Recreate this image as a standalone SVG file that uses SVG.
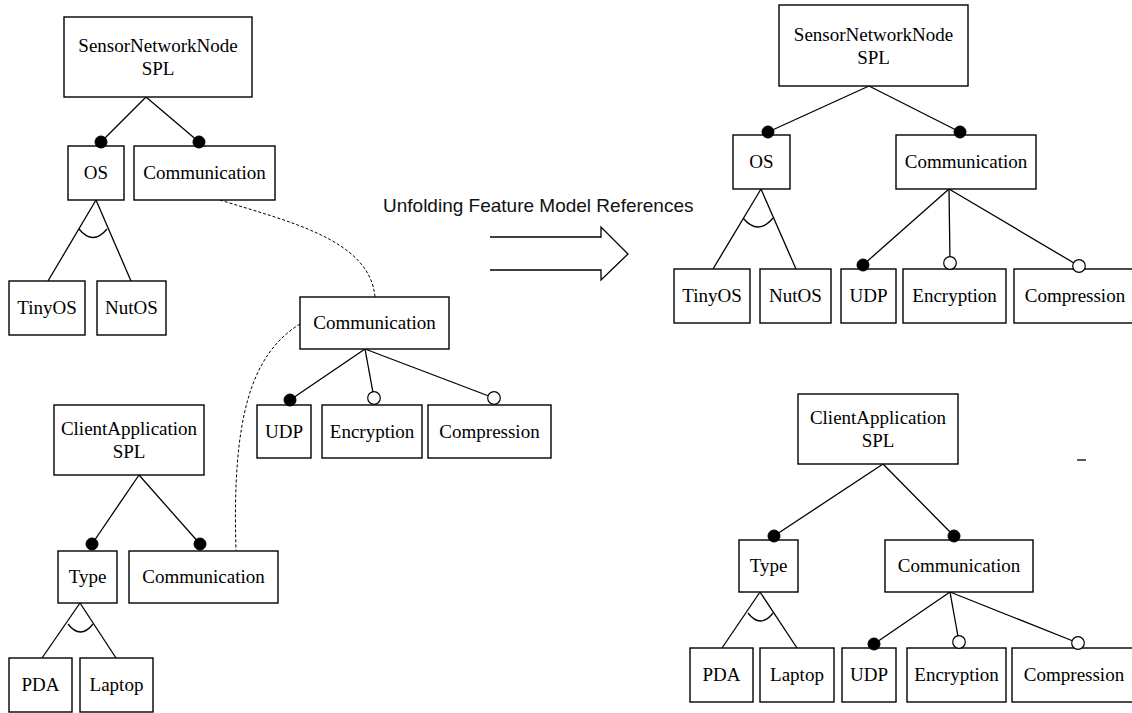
<svg xmlns="http://www.w3.org/2000/svg" width="1132" height="713" viewBox="0 0 1132 713">
  <style>
    .box { fill: #fff; stroke: #000; stroke-width: 1.4; }
    .lbl { font-family: "Liberation Serif", "Times New Roman", serif; font-size: 19px; fill: #000; text-anchor: middle; }
    .edge { fill: none; stroke: #000; stroke-width: 1.3; }
    .dash { fill: none; stroke: #000; stroke-width: 1; stroke-dasharray: 3 2; }
    .mand { fill: #000; stroke: #000; stroke-width: 1; }
    .opt { fill: #fff; stroke: #000; stroke-width: 1.2; }
    .caption { font-family: "Liberation Sans", Arial, sans-serif; font-size: 19px; fill: #111; }
  </style>

  <!-- connectors: tree edges, alternative-group arcs, references, transformation arrow -->
  <g id="connectors">
    <!-- left SensorNetworkNode tree -->
    <line class="edge" x1="146" y1="97" x2="101" y2="142"/>
    <line class="edge" x1="146" y1="97" x2="199" y2="142"/>
    <line class="edge" x1="96" y1="200" x2="48" y2="281"/>
    <line class="edge" x1="96" y1="200" x2="131" y2="281"/>
    <path class="edge" d="M79,229 Q93,246 107,229"/>
    <!-- standalone Communication model -->
    <line class="edge" x1="365" y1="349" x2="290" y2="400"/>
    <line class="edge" x1="365" y1="349" x2="374" y2="398"/>
    <line class="edge" x1="365" y1="349" x2="494" y2="398"/>
    <!-- left ClientApplication tree -->
    <line class="edge" x1="139" y1="475" x2="92" y2="544"/>
    <line class="edge" x1="139" y1="475" x2="200" y2="544"/>
    <line class="edge" x1="80" y1="603" x2="42" y2="658"/>
    <line class="edge" x1="80" y1="603" x2="116" y2="658"/>
    <path class="edge" d="M68,624 Q80.5,640 93,624"/>
    <!-- references to the Communication model -->
    <path class="dash" d="M220,200 C290,222 370,240 375,297"/>
    <path class="dash" d="M300,324 C250,355 232,420 236,550"/>
    <!-- right SensorNetworkNode tree -->
    <line class="edge" x1="869" y1="86" x2="768" y2="132"/>
    <line class="edge" x1="869" y1="86" x2="960" y2="132"/>
    <line class="edge" x1="761" y1="189" x2="713" y2="269"/>
    <line class="edge" x1="761" y1="189" x2="796" y2="269"/>
    <path class="edge" d="M743,218 Q758,236 773,218"/>
    <line class="edge" x1="949" y1="189" x2="863" y2="265"/>
    <line class="edge" x1="949" y1="189" x2="950" y2="263"/>
    <line class="edge" x1="949" y1="189" x2="1079" y2="266"/>
    <!-- right ClientApplication tree -->
    <line class="edge" x1="883" y1="464" x2="774" y2="536"/>
    <line class="edge" x1="883" y1="464" x2="954" y2="536"/>
    <line class="edge" x1="760" y1="592" x2="722" y2="648"/>
    <line class="edge" x1="760" y1="592" x2="797" y2="648"/>
    <path class="edge" d="M748,613 Q760.5,629 773,613"/>
    <line class="edge" x1="950" y1="592" x2="874" y2="644"/>
    <line class="edge" x1="950" y1="592" x2="959" y2="642"/>
    <line class="edge" x1="950" y1="592" x2="1078" y2="643"/>
    <!-- hollow block arrow -->
    <polyline class="edge" points="490,237 601,237 601,227 628,254 601,280 601,270 490,270"/>
    <line class="edge" x1="1077" y1="460" x2="1086" y2="460"/>
  </g>

  <text class="caption" x="383" y="212">Unfolding Feature Model References</text>

  <!-- left: SensorNetworkNode SPL -->
  <g id="snn-left"><rect class="box" x="64" y="17" width="188" height="80"/>
    <text class="lbl" x="158" y="52">SensorNetworkNode</text><text class="lbl" x="158" y="75">SPL</text></g>
  <g id="os-left"><rect class="box" x="68" y="146" width="56" height="54"/><text class="lbl" x="96" y="179">OS</text></g>
  <g id="comm-left-snn"><rect class="box" x="134" y="146" width="141" height="54"/><text class="lbl" x="204.5" y="179">Communication</text></g>
  <g id="tinyos-left"><rect class="box" x="9" y="281" width="76" height="54"/><text class="lbl" x="47" y="314">TinyOS</text></g>
  <g id="nutos-left"><rect class="box" x="97" y="281" width="69" height="54"/><text class="lbl" x="131.5" y="314">NutOS</text></g>

  <!-- middle: Communication model -->
  <g id="comm-mid"><rect class="box" x="300" y="297" width="149" height="52"/><text class="lbl" x="374.5" y="329">Communication</text></g>
  <g id="udp-mid"><rect class="box" x="257" y="405" width="54" height="53"/><text class="lbl" x="284" y="438">UDP</text></g>
  <g id="enc-mid"><rect class="box" x="322" y="405" width="100" height="53"/><text class="lbl" x="372" y="438">Encryption</text></g>
  <g id="comp-mid"><rect class="box" x="428" y="405" width="123" height="53"/><text class="lbl" x="489.5" y="438">Compression</text></g>

  <!-- left: ClientApplication SPL -->
  <g id="ca-left"><rect class="box" x="54" y="405" width="150" height="70"/>
    <text class="lbl" x="129" y="435">ClientApplication</text><text class="lbl" x="129" y="458">SPL</text></g>
  <g id="type-left"><rect class="box" x="58" y="551" width="59" height="52"/><text class="lbl" x="87.5" y="583">Type</text></g>
  <g id="comm-left-ca"><rect class="box" x="129" y="551" width="149" height="52"/><text class="lbl" x="203.5" y="583">Communication</text></g>
  <g id="pda-left"><rect class="box" x="9" y="658" width="63" height="54"/><text class="lbl" x="40.5" y="691">PDA</text></g>
  <g id="laptop-left"><rect class="box" x="80" y="658" width="73" height="54"/><text class="lbl" x="116.5" y="691">Laptop</text></g>

  <!-- right: unfolded SensorNetworkNode SPL -->
  <g id="snn-right"><rect class="box" x="779" y="5" width="189" height="81"/>
    <text class="lbl" x="873.5" y="40.5">SensorNetworkNode</text><text class="lbl" x="873.5" y="63.5">SPL</text></g>
  <g id="os-right"><rect class="box" x="733" y="135" width="57" height="54"/><text class="lbl" x="761.5" y="168">OS</text></g>
  <g id="comm-right-snn"><rect class="box" x="896" y="135" width="140" height="54"/><text class="lbl" x="966" y="168">Communication</text></g>
  <g id="tinyos-right"><rect class="box" x="674" y="269" width="76" height="54"/><text class="lbl" x="712" y="302">TinyOS</text></g>
  <g id="nutos-right"><rect class="box" x="760" y="269" width="71" height="54"/><text class="lbl" x="795.5" y="302">NutOS</text></g>
  <g id="udp-right-snn"><rect class="box" x="841" y="269" width="55" height="54"/><text class="lbl" x="868.5" y="302">UDP</text></g>
  <g id="enc-right-snn"><rect class="box" x="903" y="269" width="103" height="54"/><text class="lbl" x="954.5" y="302">Encryption</text></g>
  <g id="comp-right-snn"><rect class="box" x="1014" y="269" width="122" height="54"/><text class="lbl" x="1075" y="302">Compression</text></g>

  <!-- right: unfolded ClientApplication SPL -->
  <g id="ca-right"><rect class="box" x="798" y="394" width="160" height="70"/>
    <text class="lbl" x="878" y="424">ClientApplication</text><text class="lbl" x="878" y="447">SPL</text></g>
  <g id="type-right"><rect class="box" x="739" y="540" width="59" height="52"/><text class="lbl" x="768.5" y="572">Type</text></g>
  <g id="comm-right-ca"><rect class="box" x="885" y="540" width="148" height="52"/><text class="lbl" x="959" y="572">Communication</text></g>
  <g id="pda-right"><rect class="box" x="690" y="648" width="63" height="54"/><text class="lbl" x="721.5" y="681">PDA</text></g>
  <g id="laptop-right"><rect class="box" x="760" y="648" width="74" height="54"/><text class="lbl" x="797" y="681">Laptop</text></g>
  <g id="udp-right-ca"><rect class="box" x="842" y="648" width="54" height="54"/><text class="lbl" x="869" y="681">UDP</text></g>
  <g id="enc-right-ca"><rect class="box" x="907" y="648" width="99" height="54"/><text class="lbl" x="956.5" y="681">Encryption</text></g>
  <g id="comp-right-ca"><rect class="box" x="1012" y="648" width="124" height="54"/><text class="lbl" x="1074" y="681">Compression</text></g>

  <!-- mandatory (filled) and optional (hollow) edge markers, drawn over the box borders -->
  <g id="markers">
    <circle class="mand" cx="101" cy="142" r="6"/>
    <circle class="mand" cx="199" cy="142" r="6"/>
    <circle class="mand" cx="290" cy="400" r="6"/>
    <circle class="opt" cx="374" cy="398" r="6.3"/>
    <circle class="opt" cx="494" cy="398" r="6.3"/>
    <circle class="mand" cx="92" cy="544" r="6"/>
    <circle class="mand" cx="200" cy="544" r="6"/>
    <circle class="mand" cx="768" cy="132" r="6"/>
    <circle class="mand" cx="960" cy="132" r="6"/>
    <circle class="mand" cx="863" cy="265" r="6"/>
    <circle class="opt" cx="950" cy="263" r="6.3"/>
    <circle class="opt" cx="1079" cy="266" r="6.3"/>
    <circle class="mand" cx="774" cy="536" r="6"/>
    <circle class="mand" cx="954" cy="536" r="6"/>
    <circle class="mand" cx="874" cy="644" r="6"/>
    <circle class="opt" cx="959" cy="642" r="6.3"/>
    <circle class="opt" cx="1078" cy="643" r="6.3"/>
  </g>
</svg>
